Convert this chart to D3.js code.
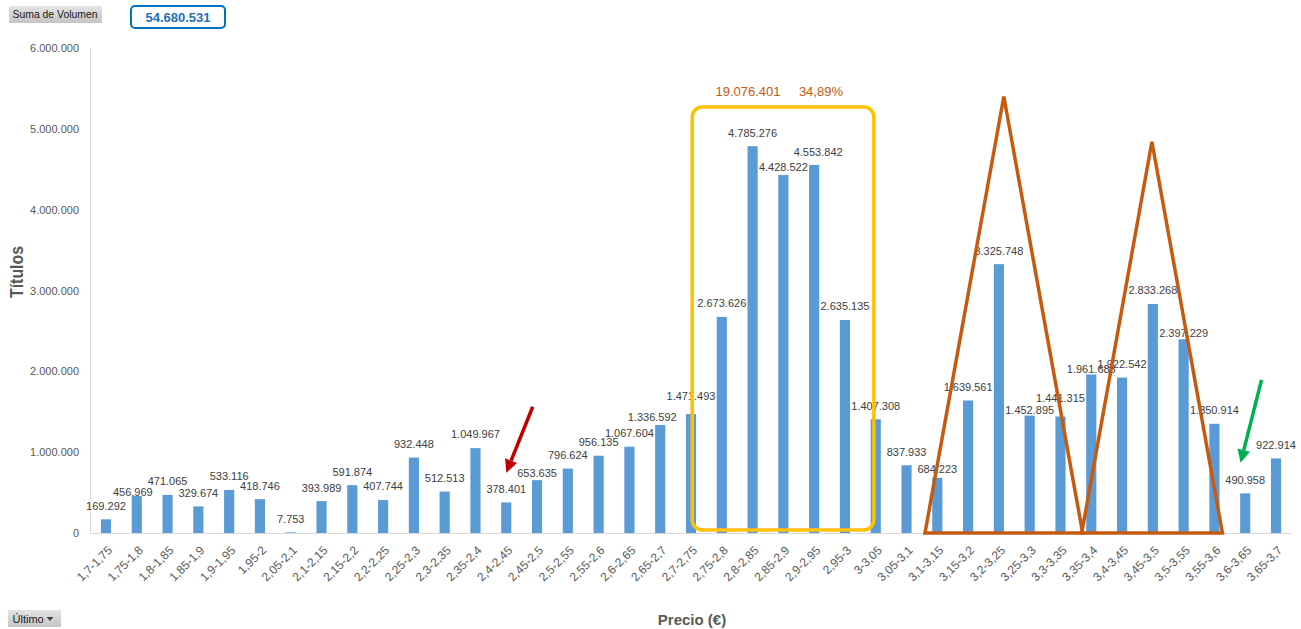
<!DOCTYPE html>
<html>
<head>
<meta charset="utf-8">
<script src="https://cdn.jsdelivr.net/npm/d3@7"></script>
<style>
  body { margin: 0; background: #fff; }
  svg { display: block; font-family: "Liberation Sans", Arial, sans-serif; }
</style>
</head>
<body>
<div id="chart"></div>
<script>
const categories = [
  "1,7-1,75", "1,75-1,8", "1,8-1,85", "1,85-1,9", "1,9-1,95", "1,95-2", "2,05-2,1",
  "2,1-2,15", "2,15-2,2", "2,2-2,25", "2,25-2,3", "2,3-2,35", "2,35-2,4", "2,4-2,45",
  "2,45-2,5", "2,5-2,55", "2,55-2,6", "2,6-2,65", "2,65-2,7", "2,7-2,75", "2,75-2,8",
  "2,8-2,85", "2,85-2,9", "2,9-2,95", "2,95-3", "3-3,05", "3,05-3,1", "3,1-3,15",
  "3,15-3,2", "3,2-3,25", "3,25-3,3", "3,3-3,35", "3,35-3,4", "3,4-3,45", "3,45-3,5",
  "3,5-3,55", "3,55-3,6", "3,6-3,65", "3,65-3,7"
];

const volumes = [
  169292, 456969, 471065, 329674, 533116, 418746, 7753,
  393989, 591874, 407744, 932448, 512513, 1049967, 378401,
  653635, 796624, 956135, 1067604, 1336592, 1471493, 2673626,
  4785276, 4428522, 4553842, 2635135, 1407308, 837933, 684223,
  1639561, 3325748, 1452895, 1441315, 1961688, 1922542, 2833268,
  2397229, 1350914, 490958, 922914
];

const yTicks = [0, 1000000, 2000000, 3000000, 4000000, 5000000, 6000000];

const totalVolumen = 54680531;
const zoneVolumen = 19076401;
const zonePct = 34.89;

// etiquetas que en el original se movieron a mano
const labelNudge = {
  1: [-4, 10], 14: [0, 6], 18: [-8, 6], 19: [0, -4], 22: [0, 6], 23: [4, 1],
  27: [0, 5], 30: [0, 8], 31: [0, -5], 32: [0, 8], 35: [0, 7]
};

const es = d3.formatLocale({ decimal: ",", thousands: ".", grouping: [3], currency: ["", "€"] });
const fmt = es.format(",d");

const width = 1301, height = 629;
const margin = { top: 48, right: 10, bottom: 96, left: 90.6 };

const svg = d3.select("#chart").append("svg")
  .attr("width", width)
  .attr("height", height);

const x = d3.scaleBand()
  .domain(categories)
  .range([margin.left, 1291.4])
  .paddingInner(0.67)
  .paddingOuter(0.335);

const y = d3.scaleLinear()
  .domain([0, 6000000])
  .range([height - margin.bottom, margin.top]);

// posición fraccionaria en unidades de categoría
const step = x.step();
const x0 = x(categories[0]) + x.bandwidth() / 2;
const xAt = i => x0 + i * step;

// eje Y
const yAxis = svg.append("g")
  .attr("transform", `translate(${margin.left - 0.6},0)`)
  .call(d3.axisLeft(y).tickValues(yTicks).tickSize(0).tickPadding(11).tickFormat(fmt));
yAxis.select(".domain").attr("stroke", "#d9d9d9");
yAxis.selectAll("text")
  .attr("fill", "#595959")
  .style("font-size", "11px")
  .style("font-family", "Liberation Sans, Arial, sans-serif");

// eje X
const xAxis = svg.append("g")
  .attr("transform", `translate(0,${y(0)})`)
  .call(d3.axisBottom(x).tickSize(0).tickFormat(""));
xAxis.select(".domain").attr("stroke", "#d9d9d9").attr("stroke-width", 1.2);

svg.append("g")
  .selectAll("text")
  .data(categories)
  .join("text")
  .attr("transform", d => `translate(${x(d) + x.bandwidth() / 2 + 4},${y(0) + 15}) rotate(-45)`)
  .attr("text-anchor", "end")
  .attr("dy", "0.35em")
  .attr("fill", "#595959")
  .style("font-size", "12px")
  .text(d => d);

// barras
svg.append("g")
  .selectAll("rect")
  .data(volumes)
  .join("rect")
  .attr("x", (d, i) => x(categories[i]))
  .attr("y", d => y(d))
  .attr("width", x.bandwidth())
  .attr("height", d => y(0) - y(d))
  .attr("fill", "#5b9bd5");

// etiquetas de datos
svg.append("g")
  .selectAll("text")
  .data(volumes)
  .join("text")
  .attr("x", (d, i) => x(categories[i]) + x.bandwidth() / 2 + (labelNudge[i] ? labelNudge[i][0] : 0))
  .attr("y", (d, i) => y(d) - 13.5 + (labelNudge[i] ? labelNudge[i][1] : 0))
  .attr("dy", "0.35em")
  .attr("text-anchor", "middle")
  .attr("fill", "#404040")
  .style("font-size", "11px")
  .text(d => fmt(d));

// títulos de ejes
svg.append("text")
  .attr("transform", `translate(23,272) rotate(-90)`)
  .attr("text-anchor", "middle")
  .attr("fill", "#595959")
  .attr("textLength", 52)
  .attr("lengthAdjust", "spacingAndGlyphs")
  .style("font-size", "18px")
  .style("font-weight", "bold")
  .text("Títulos");

svg.append("text")
  .attr("x", 692)
  .attr("y", 620)
  .attr("dy", "0.35em")
  .attr("text-anchor", "middle")
  .attr("fill", "#595959")
  .style("font-size", "15px")
  .style("font-weight", "bold")
  .text("Precio (€)");

// caja amarilla de la zona de mayor volumen
svg.append("rect")
  .attr("x", xAt(19.04))
  .attr("y", y(5270000))
  .attr("width", xAt(24.94) - xAt(19.04))
  .attr("height", y(37000) - y(5270000))
  .attr("rx", 10)
  .attr("fill", "none")
  .attr("stroke", "#ffc000")
  .attr("stroke-width", 3.5);

svg.append("text")
  .attr("x", xAt(20.85))
  .attr("y", 91)
  .attr("dy", "0.35em")
  .attr("text-anchor", "middle")
  .attr("fill", "#c55a11")
  .style("font-size", "13px")
  .text(fmt(zoneVolumen));

svg.append("text")
  .attr("x", xAt(23.22))
  .attr("y", 91)
  .attr("dy", "0.35em")
  .attr("text-anchor", "middle")
  .attr("fill", "#c55a11")
  .style("font-size", "13px")
  .text(es.format(".2f")(zonePct) + "%");

// triángulos
const triangles = [
  [[26.6, 0], [29.16, 5400000], [31.72, 0]],
  [[31.69, 0], [33.97, 4840000], [36.26, 0]]
];
svg.append("g")
  .selectAll("path")
  .data(triangles)
  .join("path")
  .attr("d", t => "M" + t.map(p => [xAt(p[0]), y(p[1])]).join("L") + "Z")
  .attr("fill", "none")
  .attr("stroke", "#c55a11")
  .attr("stroke-width", 3.5)
  .attr("stroke-linejoin", "miter");

// flechas
function arrow(from, to, color) {
  const x1 = xAt(from[0]), y1 = y(from[1]);
  const x2 = xAt(to[0]), y2 = y(to[1]);
  const ang = Math.atan2(y2 - y1, x2 - x1);
  const headLen = 13, headW = 6.5;
  const bx = x2 - headLen * Math.cos(ang), by = y2 - headLen * Math.sin(ang);
  svg.append("line")
    .attr("x1", x1).attr("y1", y1)
    .attr("x2", bx).attr("y2", by)
    .attr("stroke", color)
    .attr("stroke-width", 3.5);
  const px = -Math.sin(ang) * headW, py = Math.cos(ang) * headW;
  svg.append("path")
    .attr("d", `M${x2},${y2}L${bx + px},${by + py}L${bx - px},${by - py}Z`)
    .attr("fill", color);
}
arrow([13.86, 1562000], [13.0, 746000], "#c00000");
arrow([37.53, 1894000], [36.85, 870000], "#00b050");

// botones de la tabla dinámica
const grad = svg.append("defs").append("linearGradient")
  .attr("id", "btn").attr("x1", 0).attr("y1", 0).attr("x2", 0).attr("y2", 1);
grad.append("stop").attr("offset", "0%").attr("stop-color", "#e4e4e4");
grad.append("stop").attr("offset", "100%").attr("stop-color", "#c4c4c4");

svg.append("rect")
  .attr("x", 9).attr("y", 6).attr("width", 93).attr("height", 17)
  .attr("fill", "url(#btn)");
svg.append("text")
  .attr("x", 12.5).attr("y", 14.5).attr("dy", "0.35em")
  .attr("fill", "#1a1a1a")
  .attr("textLength", 85)
  .attr("lengthAdjust", "spacingAndGlyphs")
  .style("font-size", "11px")
  .text("Suma de Volumen");

svg.append("rect")
  .attr("x", 131).attr("y", 6).attr("width", 94).attr("height", 22)
  .attr("rx", 4)
  .attr("fill", "#fff")
  .attr("stroke", "#0070c0")
  .attr("stroke-width", 2);
svg.append("text")
  .attr("x", 178).attr("y", 17.5).attr("dy", "0.35em")
  .attr("text-anchor", "middle")
  .attr("fill", "#1f6fb8")
  .style("font-size", "13px")
  .style("font-weight", "bold")
  .text(fmt(totalVolumen));

svg.append("rect")
  .attr("x", 8).attr("y", 610).attr("width", 53).attr("height", 17)
  .attr("fill", "url(#btn)");
svg.append("text")
  .attr("x", 12.5).attr("y", 619).attr("dy", "0.35em")
  .attr("fill", "#1a1a1a")
  .style("font-size", "11px")
  .text("Último");
svg.append("path")
  .attr("d", "M46.5,617L53.5,617L50,621Z")
  .attr("fill", "#404040");
</script>
</body>
</html>
